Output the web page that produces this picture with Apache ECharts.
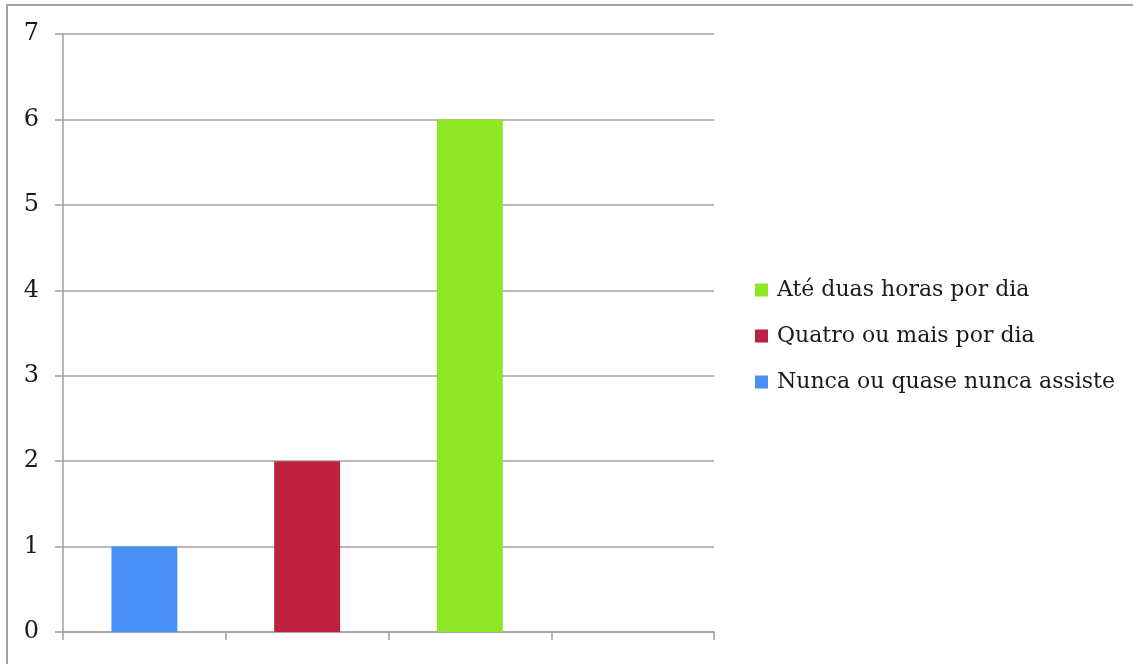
<!DOCTYPE html>
<html><head><meta charset="utf-8">
<script src="https://cdn.jsdelivr.net/npm/echarts@6/dist/echarts.min.js"></script>
<style>
html,body{margin:0;padding:0;width:1133px;height:664px;overflow:hidden;background:#fff;}
#frame{position:absolute;left:6px;top:4px;width:1200px;height:700px;border:2px solid #a3a3a3;box-sizing:border-box;}
#c{position:absolute;left:0;top:0;width:1133px;height:664px;}
</style></head>
<body>
<div id="frame"></div>
<div id="c"></div>
<script>
const categories = ['', '', '', ''];
const seriesNames = ['Nunca ou quase nunca assiste', 'Quatro ou mais por dia', 'Até duas horas por dia'];
const nuncaValues = [1, '-', '-', '-'];
const quatroValues = ['-', 2, '-', '-'];
const ateValues = ['-', '-', 6, '-'];
const colors = ['#4A8FF7', '#C0203F', '#8EE624'];
const legendOrder = ['Até duas horas por dia', 'Quatro ou mais por dia', 'Nunca ou quase nunca assiste'];

const font = '"DejaVu Serif", "Liberation Serif", serif';
const chart = echarts.init(document.getElementById('c'));
const vals = [nuncaValues, quatroValues, ateValues];
chart.setOption({
  animation: false,
  textStyle: {fontFamily: font},
  grid: {left: 63, right: 419, top: 34, bottom: 32, containLabel: false},
  legend: {
    orient: 'vertical', left: 755, top: 279, padding: 0,
    data: legendOrder, icon: 'rect', itemWidth: 13, itemHeight: 13, itemGap: 24,
    textStyle: {fontFamily: font, fontSize: 22, lineHeight: 22, color: '#1a1a1a', padding: [0,0,0,4]}
  },
  xAxis: {
    type: 'category', data: categories,
    axisLine: {lineStyle: {color: '#a0a0a0', width: 1.5}},
    axisTick: {show: true, length: 8, lineStyle: {color: '#a0a0a0', width: 1.5}},
    axisLabel: {show: false}
  },
  yAxis: {
    type: 'value', min: 0, max: 7, interval: 1,
    axisLine: {show: true, lineStyle: {color: '#a0a0a0', width: 1.5}},
    axisTick: {show: true, length: 8, lineStyle: {color: '#a0a0a0', width: 1.5}},
    splitLine: {lineStyle: {color: '#a0a0a0', width: 1.5}},
    axisLabel: {fontFamily: font, fontSize: 24, color: '#1a1a1a', margin: 24}
  },
  series: seriesNames.map((n, i) => ({
    name: n, type: 'bar', stack: 'total', data: vals[i], barWidth: '40.5%',
    itemStyle: {color: colors[i]}
  }))
});
</script>
</body></html>
